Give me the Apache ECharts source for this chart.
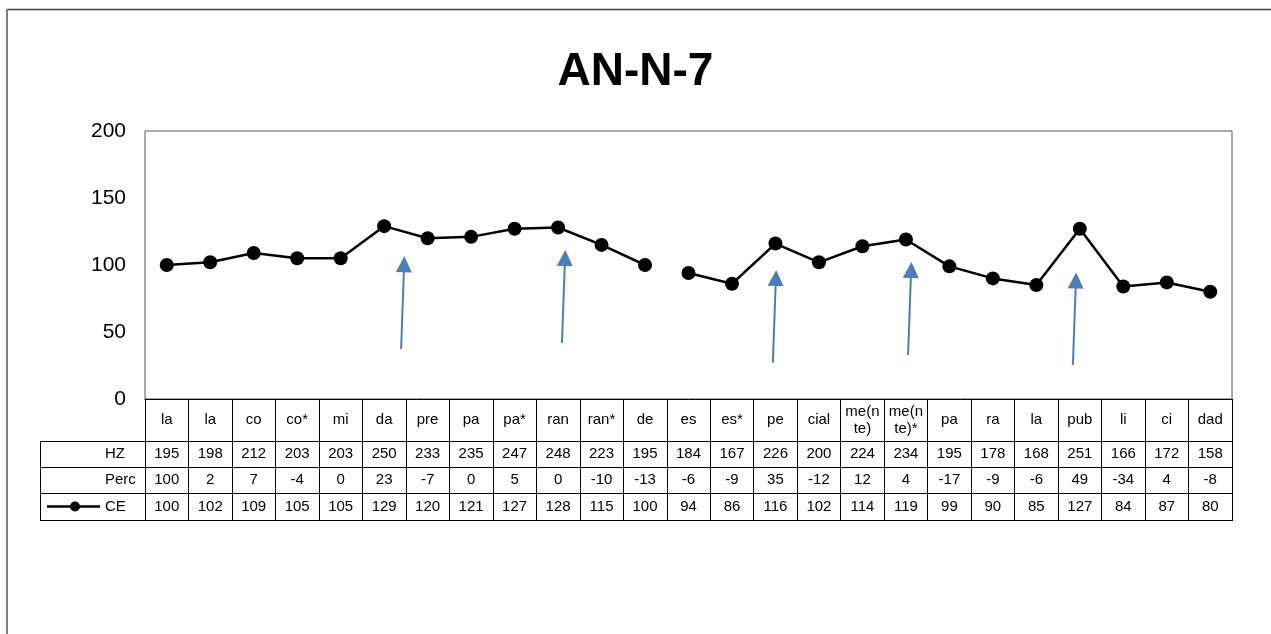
<!DOCTYPE html>
<html>
<head>
<meta charset="utf-8">
<script src="https://cdn.jsdelivr.net/npm/echarts@6/dist/echarts.min.js"></script>
<style>
html,body{margin:0;padding:0;background:#fff;}
#chart{width:1271px;height:634px;}
</style>
</head>
<body>
<div id="chart"></div>
<script>
// ---- data ----
const categories = ['la','la','co','co*','mi','da','pre','pa','pa*','ran','ran*','de','es','es*','pe','cial','me(n\nte)','me(n\nte)*','pa','ra','la','pub','li','ci','dad'];
const hz   = [195,198,212,203,203,250,233,235,247,248,223,195,184,167,226,200,224,234,195,178,168,251,166,172,158];
const perc = [100,2,7,-4,0,23,-7,0,5,0,-10,-13,-6,-9,35,-12,12,4,-17,-9,-6,49,-34,4,-8];
const ce   = [100,102,109,105,105,129,120,121,127,128,115,100,94,86,116,102,114,119,99,90,85,127,84,87,80];
const yTicks = [0,50,100,150,200];
const lineBreakAfter = 11; // the CE line is not drawn between 'de' and 'es'
// arrows: [categoryIndex, value] tail -> head
const arrows = [
  [[5.39,37.3],[5.46,100.5]],
  [[9.09,41.8],[9.16,105.2]],
  [[13.94,27.0],[14.01,90.3]],
  [[17.05,32.8],[17.12,96.3]],
  [[20.84,25.4],[20.91,88.4]]
];

// ---- layout ----
const G = {left:145, right:1232, top:131, bottom:399};
const rowTop = [441,467,493,520]; // HZ, Perc, CE rows
const tableLeft = 40;
const FONT = 'Liberation Sans, Arial, sans-serif';

const ceA = ce.map((v,i)=> i<=lineBreakAfter ? v : '-');
const ceB = ce.map((v,i)=> i>lineBreakAfter ? v : '-');

function rowAxis(data, offset){
  return {
    type:'category', data:data.map(String), position:'bottom', offset:offset,
    gridIndex:0, boundaryGap:true,
    axisLine:{show:false}, axisTick:{show:false}, splitLine:{show:false},
    axisLabel:{interval:0, margin:0, verticalAlign:'middle', color:'#000', fontSize:15, fontFamily:FONT}
  };
}

const chart = echarts.init(document.getElementById('chart'), null, {renderer:'canvas'});

const graphic = [
  // outer frame
  {type:'line', shape:{x1:7,y1:9.5,x2:1271,y2:9.5}, style:{stroke:'#404040',lineWidth:1.5}},
  {type:'line', shape:{x1:7,y1:9,x2:7,y2:634}, style:{stroke:'#808080',lineWidth:2}},
  // table horizontal lines
  ...rowTop.map(y=>({type:'line', shape:{x1:tableLeft,y1:y+0.5,x2:G.right,y2:y+0.5}, style:{stroke:'#000',lineWidth:1}})),
  {type:'line', shape:{x1:tableLeft+0.5,y1:rowTop[0],x2:tableLeft+0.5,y2:rowTop[3]+1}, style:{stroke:'#000',lineWidth:1}},
  // row headers
  {type:'text', x:105, y:(rowTop[0]+rowTop[1])/2, style:{text:'HZ', fill:'#000', font:'15px '+FONT, verticalAlign:'middle'}},
  {type:'text', x:105, y:(rowTop[1]+rowTop[2])/2, style:{text:'Perc', fill:'#000', font:'15px '+FONT, verticalAlign:'middle'}},
  {type:'text', x:105, y:(rowTop[2]+rowTop[3])/2, style:{text:'CE', fill:'#000', font:'15px '+FONT, verticalAlign:'middle'}},
  // legend key for CE
  {type:'line', shape:{x1:47,y1:(rowTop[2]+rowTop[3])/2,x2:100,y2:(rowTop[2]+rowTop[3])/2}, style:{stroke:'#000',lineWidth:2.5}},
  {type:'circle', shape:{cx:75,cy:(rowTop[2]+rowTop[3])/2,r:5}, style:{fill:'#000'}}
];

chart.setOption({
  animation:false,
  backgroundColor:'#fff',
  title:{text:'AN-N-7', left:'center', top:44, textStyle:{fontSize:46, fontWeight:'bold', color:'#000', fontFamily:FONT}},
  grid:{left:G.left, right:1271-G.right, top:G.top, bottom:634-G.bottom, show:true, borderColor:'#555', borderWidth:1, containLabel:false},
  xAxis:[
    {
      type:'category', data:categories, boundaryGap:true, position:'bottom',
      axisLine:{show:true, lineStyle:{color:'#000', width:1}},
      axisTick:{show:true, interval:0, length:rowTop[3]-G.bottom+1, lineStyle:{color:'#000', width:1}},
      axisLabel:{interval:0, margin:(rowTop[0]-G.bottom)/2, verticalAlign:'middle', color:'#000', fontSize:15, fontFamily:FONT, lineHeight:17},
      splitLine:{show:false}
    },
    rowAxis(hz, (rowTop[0]+rowTop[1])/2-G.bottom),
    rowAxis(perc, (rowTop[1]+rowTop[2])/2-G.bottom),
    rowAxis(ce, (rowTop[2]+rowTop[3])/2-G.bottom),
    {type:'value', min:-0.5, max:categories.length-0.5, show:false, position:'top'}
  ],
  yAxis:{
    type:'value', min:yTicks[0], max:yTicks[yTicks.length-1], interval:yTicks[1]-yTicks[0],
    axisLine:{show:false}, axisTick:{show:false}, splitLine:{show:false},
    axisLabel:{color:'#000', fontSize:21, fontFamily:FONT, margin:19}
  },
  series:[
    {type:'line', data:ceA, xAxisIndex:0, symbol:'circle', symbolSize:14, itemStyle:{color:'#000'}, lineStyle:{color:'#000', width:2.5}, connectNulls:false},
    {type:'line', data:ceB, xAxisIndex:0, symbol:'circle', symbolSize:14, itemStyle:{color:'#000'}, lineStyle:{color:'#000', width:2.5}, connectNulls:false},
    {type:'lines', coordinateSystem:'cartesian2d', xAxisIndex:4, yAxisIndex:0,
     symbol:['none','triangle'], symbolSize:[15,16],
     lineStyle:{color:'#4A7EBB', width:2, opacity:1, curveness:0},
     data:arrows.map(a=>({coords:a}))}
  ],
  graphic:graphic
});
</script>
</body>
</html>
